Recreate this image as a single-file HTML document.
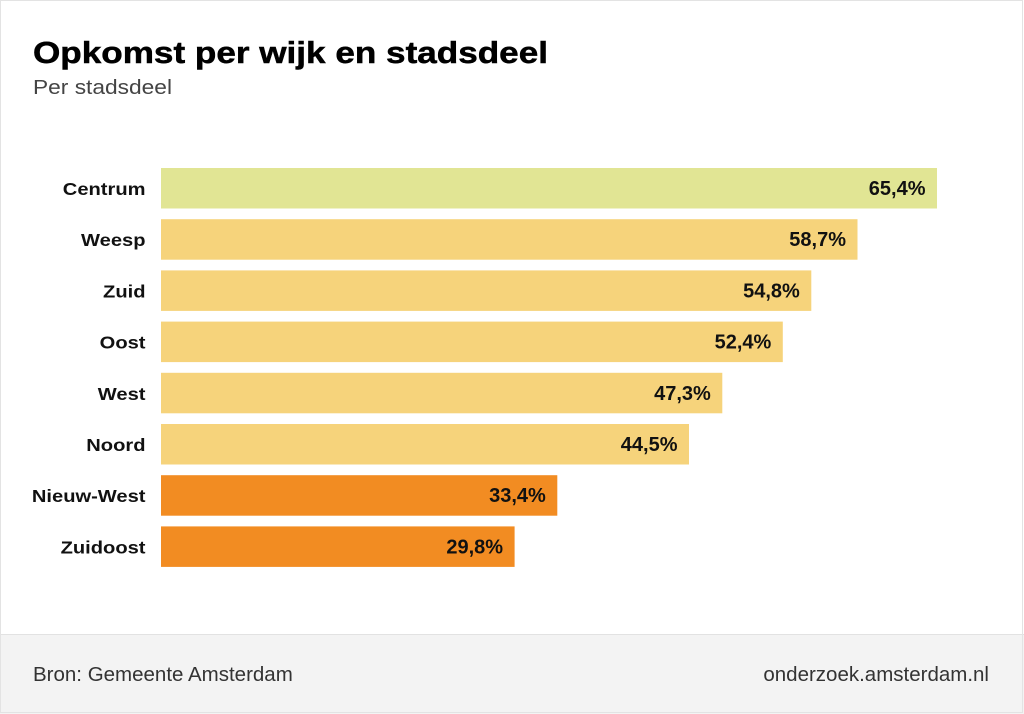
<!DOCTYPE html>
<html><head><meta charset="utf-8"><style>
html,body{margin:0;padding:0;background:#fff;}
svg{display:block;}
text{font-family:"Liberation Sans",Arial,sans-serif;}
</style></head><body>
<svg width="1024" height="714" viewBox="0 0 1024 714" xmlns="http://www.w3.org/2000/svg">
<rect x="0" y="0" width="1024" height="714" fill="#fff"/>
<rect x="0" y="635" width="1024" height="79" fill="#f3f3f3"/>
<line x1="0" y1="634.5" x2="1024" y2="634.5" stroke="#e2e2e2" stroke-width="1"/>
<rect x="0.5" y="0.5" width="1022" height="712" fill="none" stroke="#e3e3e3" stroke-width="1"/>

<text x="33" y="63" font-size="31" font-weight="bold" fill="#000" stroke="#000" stroke-width="0.5" textLength="515" lengthAdjust="spacingAndGlyphs">Opkomst per wijk en stadsdeel</text>
<text x="33" y="94" font-size="20.5" fill="#444" textLength="139" lengthAdjust="spacingAndGlyphs">Per stadsdeel</text>

<g>
<rect x="161" y="168" width="776" height="40.5" fill="#e1e594"/>
<rect x="161" y="219.2" width="696.5" height="40.5" fill="#f6d37b"/>
<rect x="161" y="270.4" width="650.3" height="40.5" fill="#f6d37b"/>
<rect x="161" y="321.6" width="621.8" height="40.5" fill="#f6d37b"/>
<rect x="161" y="372.8" width="561.3" height="40.5" fill="#f6d37b"/>
<rect x="161" y="424" width="528" height="40.5" fill="#f6d37b"/>
<rect x="161" y="475.2" width="396.3" height="40.5" fill="#f28c22"/>
<rect x="161" y="526.4" width="353.6" height="40.5" fill="#f28c22"/>
</g>

<g font-size="17.5" font-weight="bold" fill="#111" text-anchor="end">
<text transform="translate(145.5,195) scale(1.15,1)">Centrum</text>
<text transform="translate(145.5,246.2) scale(1.15,1)">Weesp</text>
<text transform="translate(145.5,297.4) scale(1.15,1)">Zuid</text>
<text transform="translate(145.5,348.6) scale(1.15,1)">Oost</text>
<text transform="translate(145.5,399.8) scale(1.15,1)">West</text>
<text transform="translate(145.5,451) scale(1.15,1)">Noord</text>
<text transform="translate(145.5,502.2) scale(1.15,1)">Nieuw-West</text>
<text transform="translate(145.5,553.4) scale(1.15,1)">Zuidoost</text>
</g>

<g font-size="20" font-weight="bold" fill="#111" text-anchor="end">
<text x="925.5" y="195">65,4%</text>
<text x="846" y="246.2">58,7%</text>
<text x="799.8" y="297.4">54,8%</text>
<text x="771.3" y="348.6">52,4%</text>
<text x="710.8" y="399.8">47,3%</text>
<text x="677.5" y="451">44,5%</text>
<text x="545.8" y="502.2">33,4%</text>
<text x="503.1" y="553.4">29,8%</text>
</g>

<text x="33" y="681" font-size="20.5" fill="#333">Bron: Gemeente Amsterdam</text>
<text x="989" y="681" font-size="20.5" fill="#333" text-anchor="end">onderzoek.amsterdam.nl</text>
</svg>
</body></html>
